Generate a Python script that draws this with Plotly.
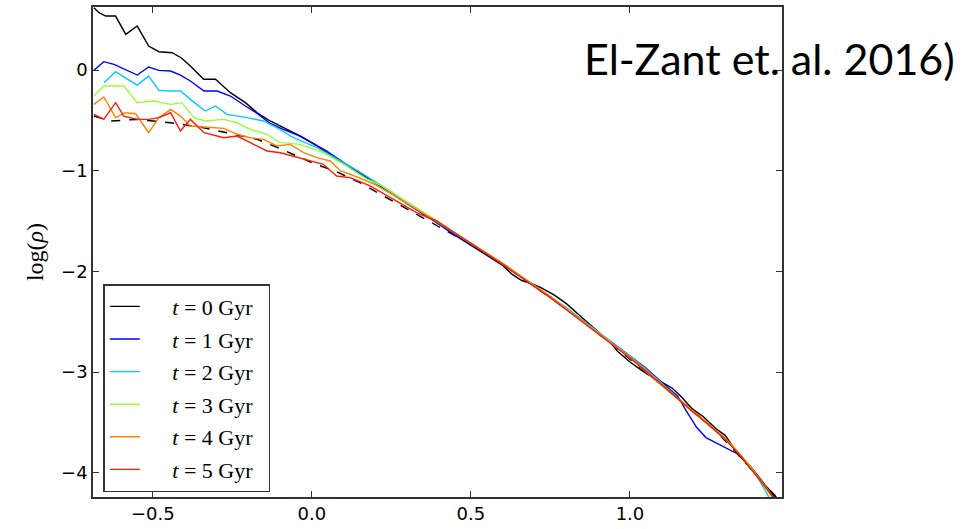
import plotly.graph_objects as go

# ---- data ----
x_t0 = [-0.685,-0.669,-0.648,-0.617,-0.585,-0.549,-0.513,-0.481,-0.439,-0.41,-0.382,-0.34,-0.303,-0.256,-0.209,-0.172,-0.131,-0.089,-0.047,0.016,0.078,0.151,0.225,0.298,0.371,0.44,0.5,0.55,0.6,0.63,0.66,0.69,0.72,0.76,0.8,0.85,0.9,0.94,0.96,1.0,1.04,1.07,1.1,1.133,1.16,1.196,1.23,1.27,1.3,1.343,1.38,1.427,1.455,1.474]
y_t0 = [0.618,0.57,0.536,0.536,0.354,0.437,0.238,0.182,0.172,0.12,0.04,-0.092,-0.092,-0.225,-0.324,-0.424,-0.506,-0.575,-0.64,-0.754,-0.887,-1.035,-1.168,-1.317,-1.466,-1.62,-1.74,-1.84,-1.94,-2.03,-2.09,-2.12,-2.16,-2.23,-2.32,-2.46,-2.60,-2.71,-2.79,-2.90,-2.99,-3.05,-3.10,-3.16,-3.24,-3.365,-3.44,-3.56,-3.63,-3.83,-3.94,-4.13,-4.22,-4.31]

x_t1 = [-0.685,-0.654,-0.622,-0.585,-0.549,-0.513,-0.481,-0.444,-0.413,-0.382,-0.339,-0.298,-0.256,-0.209,-0.172,-0.131,-0.09,-0.037,0.0,0.047,0.1,0.15,0.2,0.25,0.3,0.35,0.4,0.45,0.5,0.55,0.6,0.65,0.7,0.75,0.8,0.85,0.9,0.95,1.0,1.05,1.1,1.15,1.177,1.21,1.239,1.27,1.302,1.343,1.4,1.44,1.465]
y_t1 = [-0.003,0.083,0.056,0.0,-0.05,0.03,-0.003,-0.01,-0.05,-0.109,-0.208,-0.208,-0.258,-0.357,-0.43,-0.53,-0.59,-0.655,-0.72,-0.804,-0.92,-1.02,-1.12,-1.22,-1.33,-1.43,-1.53,-1.64,-1.73,-1.83,-1.93,-2.04,-2.15,-2.26,-2.37,-2.49,-2.61,-2.72,-2.84,-2.96,-3.10,-3.24,-3.385,-3.55,-3.65,-3.70,-3.749,-3.82,-4.03,-4.2,-4.3]

x_t2 = [-0.653,-0.617,-0.585,-0.549,-0.513,-0.481,-0.444,-0.413,-0.382,-0.335,-0.303,-0.267,-0.204,-0.172,-0.152,-0.11,-0.058,0.016,0.089,0.15,0.2,0.25,0.3,0.35,0.4,0.45,0.5,0.55,0.6,0.65,0.7,0.75,0.8,0.85,0.9,0.95,1.0,1.05,1.1,1.15,1.2,1.25,1.3,1.35,1.4,1.43,1.445]
y_t2 = [-0.126,-0.017,-0.08,-0.149,-0.06,-0.202,-0.208,-0.208,-0.291,-0.407,-0.357,-0.44,-0.473,-0.49,-0.506,-0.573,-0.672,-0.771,-0.903,-1.01,-1.11,-1.21,-1.32,-1.42,-1.52,-1.62,-1.72,-1.82,-1.92,-2.03,-2.14,-2.25,-2.36,-2.48,-2.60,-2.72,-2.84,-2.97,-3.11,-3.26,-3.40,-3.53,-3.67,-3.83,-4.04,-4.2,-4.3]

x_t3 = [-0.685,-0.654,-0.591,-0.549,-0.497,-0.444,-0.408,-0.371,-0.335,-0.277,-0.235,-0.194,-0.141,-0.099,-0.037,0.036,0.11,0.172,0.22,0.27,0.32,0.37,0.42,0.47,0.52,0.57,0.62,0.67,0.72,0.77,0.82,0.87,0.92,0.97,1.02,1.07,1.12,1.17,1.22,1.27,1.32,1.37,1.42,1.455]
y_t3 = [-0.258,-0.159,-0.159,-0.324,-0.308,-0.341,-0.324,-0.473,-0.506,-0.49,-0.523,-0.589,-0.638,-0.721,-0.738,-0.821,-0.953,-1.08,-1.15,-1.25,-1.35,-1.45,-1.55,-1.66,-1.76,-1.86,-1.97,-2.08,-2.19,-2.30,-2.42,-2.54,-2.66,-2.78,-2.91,-3.05,-3.19,-3.32,-3.45,-3.58,-3.72,-3.90,-4.12,-4.3]

x_t4 = [-0.685,-0.654,-0.617,-0.586,-0.554,-0.513,-0.481,-0.444,-0.413,-0.382,-0.339,-0.277,-0.235,-0.194,-0.152,-0.11,-0.068,-0.026,0.016,0.058,0.089,0.15,0.2,0.25,0.3,0.35,0.4,0.45,0.5,0.55,0.6,0.65,0.7,0.75,0.8,0.85,0.9,0.95,1.0,1.05,1.1,1.15,1.2,1.25,1.3,1.35,1.4,1.43,1.46]
y_t4 = [-0.341,-0.268,-0.473,-0.424,-0.434,-0.622,-0.473,-0.39,-0.457,-0.556,-0.566,-0.579,-0.638,-0.672,-0.688,-0.754,-0.738,-0.821,-0.87,-0.903,-1.0,-1.07,-1.14,-1.23,-1.33,-1.42,-1.52,-1.62,-1.72,-1.82,-1.92,-2.03,-2.14,-2.25,-2.37,-2.49,-2.61,-2.73,-2.85,-2.98,-3.12,-3.26,-3.39,-3.52,-3.66,-3.83,-4.03,-4.15,-4.3]

x_t5 = [-0.685,-0.654,-0.617,-0.591,-0.549,-0.513,-0.481,-0.444,-0.413,-0.382,-0.339,-0.277,-0.235,-0.194,-0.141,-0.099,-0.058,-0.016,0.036,0.078,0.12,0.183,0.246,0.329,0.392,0.45,0.5,0.55,0.6,0.65,0.7,0.75,0.8,0.85,0.9,0.95,1.0,1.05,1.1,1.15,1.2,1.25,1.3,1.35,1.4,1.44,1.465]
y_t5 = [-0.44,-0.49,-0.324,-0.457,-0.49,-0.49,-0.473,-0.424,-0.605,-0.49,-0.622,-0.672,-0.655,-0.721,-0.804,-0.821,-0.854,-0.887,-0.936,-1.052,-1.069,-1.151,-1.267,-1.416,-1.499,-1.62,-1.72,-1.82,-1.93,-2.04,-2.15,-2.26,-2.38,-2.50,-2.62,-2.74,-2.86,-2.99,-3.13,-3.27,-3.40,-3.53,-3.67,-3.84,-4.04,-4.2,-4.3]

x_fit = [-0.685,-0.633,-0.55,-0.444,-0.34,-0.246,-0.172,-0.1,-0.05,0.0,0.078,0.151,0.225,0.329,0.45,0.55,0.65,0.75,0.85,0.95,1.05,1.15,1.25,1.35,1.45,1.478]
y_fit = [-0.457,-0.506,-0.49,-0.523,-0.573,-0.638,-0.688,-0.78,-0.85,-0.92,-1.01,-1.118,-1.25,-1.432,-1.64,-1.82,-2.04,-2.26,-2.49,-2.74,-3.0,-3.26,-3.52,-3.85,-4.22,-4.32]

series_names = ["<i>t</i> = 0 Gyr", "<i>t</i> = 1 Gyr", "<i>t</i> = 2 Gyr",
                "<i>t</i> = 3 Gyr", "<i>t</i> = 4 Gyr", "<i>t</i> = 5 Gyr"]
series_colors = ["#000000", "#0000ff", "#00ccff", "#99ff33", "#ff8000", "#ff1a00"]
xs = [x_t0, x_t1, x_t2, x_t3, x_t4, x_t5]
ys = [y_t0, y_t1, y_t2, y_t3, y_t4, y_t5]

x_ticks = [-0.5, 0.0, 0.5, 1.0]
y_ticks = [0, -1, -2, -3, -4]

fig = go.Figure()

fig.add_trace(go.Scatter(x=x_fit, y=y_fit, mode="lines", showlegend=False,
                         line=dict(color="black", width=1.5, dash="dash")))

pad_l = "\u00a0" * 5
pad_r = "\u00a0" * 2
for i, (x, y, name, col) in enumerate(zip(xs, ys, series_names, series_colors)):
    fig.add_trace(go.Scatter(x=x, y=y, mode="lines", name=pad_l + name + pad_r,
                             legendgroup=f"g{i}",
                             line=dict(color=col, width=1.4)))

axis_common = dict(showline=True, linecolor="#333333", linewidth=1.5, mirror="ticks",
                   ticks="inside", ticklen=6, tickcolor="#333333", showgrid=False,
                   zeroline=False,
                   tickfont=dict(family="DejaVu Sans", size=18, color="black"))

fig.update_layout(
    width=976, height=529,
    margin=dict(l=93, r=194, t=5, b=30),
    paper_bgcolor="white", plot_bgcolor="white",
    xaxis=dict(range=[-0.688, 1.478], tickvals=x_ticks, tickformat=".1f", **axis_common),
    yaxis=dict(range=[-4.24, 0.626], tickvals=y_ticks, tickformat="d",
               title=dict(text="log(<i>ρ</i>)", standoff=11,
                          font=dict(family="Liberation Serif", size=24, color="black")),
               **axis_common),
    legend=dict(x=0.015, y=0.01, xanchor="left", yanchor="bottom",
                bgcolor="white", bordercolor="#333333", borderwidth=1.5,
                font=dict(family="Liberation Serif", size=22, color="black"),
                tracegroupgap=1, itemwidth=30),
    showlegend=True,
)

fig.add_annotation(text="El-Zant et. al. 2016)", xref="paper", yref="paper",
                   x=(582 - 93) / 689, y=(499 - 57) / 494, xanchor="left", yanchor="middle",
                   showarrow=False, font=dict(family="Lato", size=43, color="black"))

fig.write_html("out.html", config={"displayModeBar": False},
               post_script="document.body.style.margin='0';")
